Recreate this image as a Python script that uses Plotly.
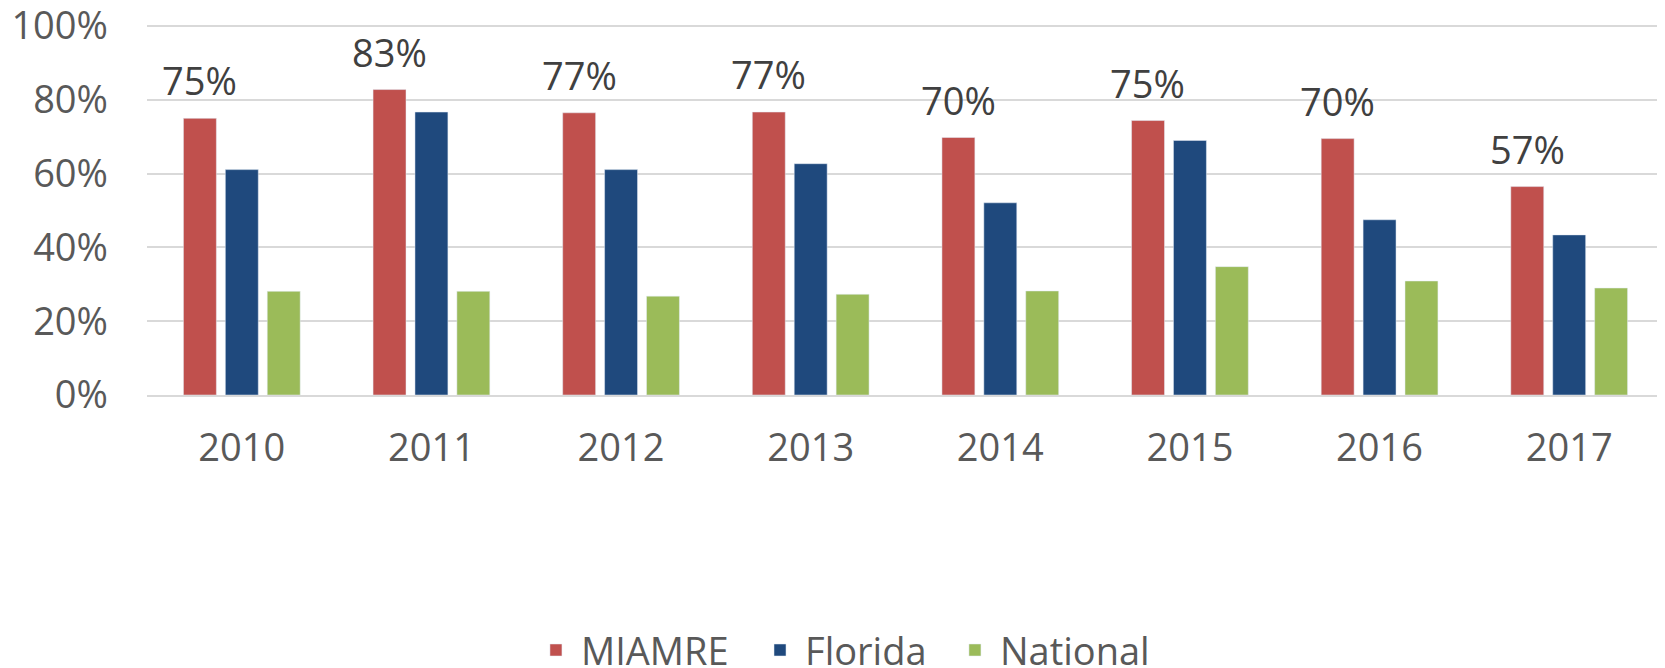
import plotly.graph_objects as go

years = ["2010", "2011", "2012", "2013", "2014", "2015", "2016", "2017"]
miamre = [0.75, 0.828, 0.765, 0.767, 0.698, 0.744, 0.695, 0.565]
florida = [0.611, 0.767, 0.611, 0.627, 0.521, 0.69, 0.475, 0.434]
national = [0.281, 0.281, 0.268, 0.273, 0.282, 0.348, 0.309, 0.29]
miamre_labels = ["75%", "83%", "77%", "77%", "70%", "75%", "70%", "57%"]

RED = "#C0504D"
BLUE = "#1F497D"
GREEN = "#9BBB59"
FONT = "Open Sans"
FS = 38

fig = go.Figure()
fig.add_trace(go.Bar(name="MIAMRE", x=years, y=miamre, marker_color=RED, legend="legend"))
fig.add_trace(go.Bar(name="Florida", x=years, y=florida, marker_color=BLUE, legend="legend2"))
fig.add_trace(go.Bar(name="National", x=years, y=national, marker_color=GREEN, legend="legend3"))

# category axis: annotations use the category index
for i, (v, lab) in enumerate(zip(miamre, miamre_labels)):
    fig.add_annotation(
        x=i, y=v, text=lab, showarrow=False,
        xref="x", yref="y", xshift=-42, yanchor="bottom", yshift=10,
        font=dict(family=FONT, size=FS, color="#404040"),
    )

leg_common = dict(
    orientation="h", xanchor="left", y=-0.69, yanchor="middle",
    font=dict(family=FONT, size=FS, color="#595959"),
    itemwidth=40, bgcolor="rgba(0,0,0,0)",
)

# the page body has an 8px default margin, so the figure is 8px smaller
fig.update_layout(
    width=1657, height=660,
    margin=dict(l=139, r=1, t=17, b=273, autoexpand=False),
    paper_bgcolor="white", plot_bgcolor="white",
    barmode="group", bargap=0.337, bargroupgap=0.214,
    font=dict(family=FONT, size=FS, color="#595959"),
    showlegend=True,
    legend=dict(x=0.2531, **leg_common),
    legend2=dict(x=0.4008, **leg_common),
    legend3=dict(x=0.5293, **leg_common),
)
fig.update_yaxes(
    range=[0, 1.003], tickvals=[0, 0.2, 0.4, 0.6, 0.8, 1.0], tickformat=".0%",
    showgrid=True, gridcolor="#D9D9D9", gridwidth=1.5,
    zeroline=False, showline=False, ticks="", automargin=False,
    ticklabelstandoff=38, ticklabeloverflow="allow",
    tickfont=dict(family=FONT, size=FS, color="#595959"),
)
fig.update_xaxes(
    type="category", range=[-0.5, 7.5], automargin=False,
    showline=True, linecolor="#D9D9D9", linewidth=1.5,
    ticks="", ticklabelstandoff=19,
    tickfont=dict(family=FONT, size=FS, color="#595959"),
)

fig.write_html("out.html")
